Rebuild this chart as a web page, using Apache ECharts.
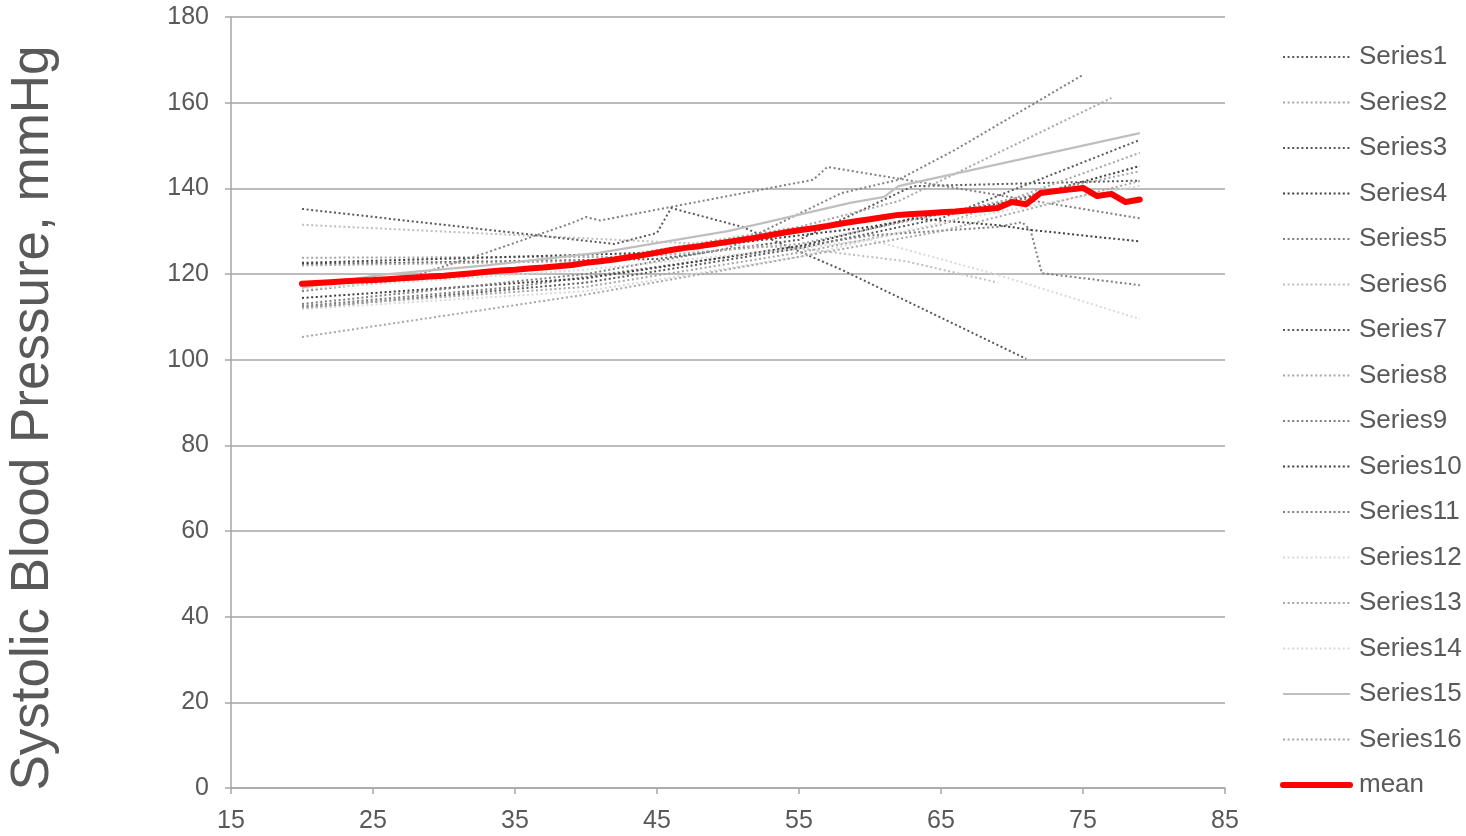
<!DOCTYPE html>
<html>
<head>
<meta charset="utf-8">
<script src="https://cdn.jsdelivr.net/npm/echarts@6/dist/echarts.min.js"></script>
<style>html,body{margin:0;padding:0;background:#fff}#c{width:1466px;height:836px}</style>
</head>
<body>
<div id="c"></div>
<script>
// ---- data (age, systolic blood pressure) ----
const yTitle = "Systolic Blood Pressure, mmHg";
const xTicks = [15, 25, 35, 45, 55, 65, 75, 85];
const yTicks = [0, 20, 40, 60, 80, 100, 120, 140, 160, 180];
const seriesNames = ["Series1","Series2","Series3","Series4","Series5","Series6","Series7","Series8","Series9","Series10","Series11","Series12","Series13","Series14","Series15","Series16"];
const s1  = [[20,122.3],[45,123.5],[55,128],[63,140.5],[79,141.8]];
const s2  = [[20,123.8],[42,124],[55,131],[62,137],[77,161.1]];
const s3  = [[20,112],[40,118],[55,126],[65,133],[79,151.3]];
const s4  = [[20,122.6],[45,125],[60,131],[70,137],[79,145.2]];
const s5  = [[20,116],[27,118.6],[33,125],[39,131.9],[40,133.3],[41,132.5],[56,142],[57,145],[79,133]];
const s6  = [[20,131.5],[42,128],[55,126],[62.5,123],[69,118]];
const s7  = [[20,135.2],[42,127],[45,129.6],[46,135.4],[51,131],[58,121],[71,100.2]];
const s8  = [[20,112.3],[40,117],[55,125],[65,131.5],[79,148.3]];
const s9  = [[20,112.5],[35,117],[50,124],[60,129],[69,131],[70.7,132.1],[71.3,130.3],[72.1,120.2],[79,117.4]];
const s10 = [[20,114.4],[40,119],[55,126.5],[63,133],[69,131.4],[71.3,130.3],[79,127.6]];
const s11 = [[20,113],[40,120],[50,126],[58,138.9],[62,142],[66,149],[75,166.5]];
const s12 = [[20,116.5],[40,121],[55,126],[60,128],[69,119.8],[79,109.5]];
const s13 = [[20,122],[40,123],[55,127],[65,134],[79,144]];
const s14 = [[20,111.8],[40,116],[55,124],[65,132],[79,140.6]];
const s15 = [[20,116.8],[25.5,119.8],[33,122],[41,125],[50,130],[58.6,136.6],[61,138],[62,140.5],[79,152.9]];
const s16 = [[20,105.3],[40,115.2],[55,124],[65,130],[79,141.7]];
const meanAges = [20,21,22,23,24,25,26,27,28,29,30,31,32,33,34,35,36,37,38,39,40,41,42,43,44,45,46,47,48,49,50,51,52,53,54,55,56,57,58,59,60,61,62,63,64,65,66,67,68,69,70,71,72,73,74,75,76,77,78,79];
const meanValues = [117.7,117.9,118.1,118.3,118.5,118.6,118.8,119.0,119.2,119.4,119.6,119.9,120.2,120.5,120.8,121.0,121.3,121.5,121.8,122.1,122.6,123.0,123.4,123.9,124.4,125.0,125.6,126.1,126.5,127.0,127.5,128.0,128.5,129.1,129.7,130.2,130.7,131.2,131.8,132.3,132.8,133.3,133.8,134.0,134.2,134.4,134.6,134.9,135.1,135.4,136.8,136.3,138.9,139.3,139.7,140.1,138.2,138.7,136.8,137.4];

const allSeries = [s1,s2,s3,s4,s5,s6,s7,s8,s9,s10,s11,s12,s13,s14,s15,s16];
const colors = ["#595959","#a6a6a6","#595959","#404040","#7f7f7f","#bfbfbf","#595959","#a6a6a6","#7f7f7f","#404040","#7f7f7f","#d9d9d9","#a6a6a6","#d9d9d9","#bfbfbf","#a6a6a6"];

const series = allSeries.map((d, i) => ({
  name: seriesNames[i],
  type: 'line',
  data: d,
  symbol: 'none',
  smooth: false,
  silent: true,
  lineStyle: i === 14
    ? { color: colors[i], width: 2.2, type: 'solid' }
    : { color: colors[i], width: 2, type: [2, 2.6], cap: 'butt' },
  itemStyle: { color: colors[i], opacity: 0 },
  z: 2
}));
series.push({
  name: 'mean',
  type: 'line',
  data: meanAges.map((a, i) => [a, meanValues[i]]),
  symbol: 'none',
  silent: true,
  lineStyle: { color: '#ff0000', width: 6, cap: 'round', join: 'round' },
  itemStyle: { color: '#ff0000', opacity: 0 },
  z: 5
});

const chart = echarts.init(document.getElementById('c'), null, { renderer: 'canvas' });
chart.setOption({
  animation: false,
  backgroundColor: '#ffffff',
  textStyle: { fontFamily: 'Liberation Sans, Arial, sans-serif' },
  grid: { left: 231, right: 241, top: 17, bottom: 48, containLabel: false },
  xAxis: {
    type: 'value', min: xTicks[0], max: xTicks[xTicks.length - 1], interval: 10,
    axisLine: { show: true, lineStyle: { color: '#a6a6a6', width: 1.5 } },
    axisTick: { show: true, inside: false, length: 6, lineStyle: { color: '#a6a6a6', width: 1.5 } },
    axisLabel: { color: '#595959', fontSize: 25, margin: 21 },
    splitLine: { show: false }
  },
  yAxis: {
    type: 'value', min: yTicks[0], max: yTicks[yTicks.length - 1], interval: 20,
    axisLine: { show: true, lineStyle: { color: '#a6a6a6', width: 1.5 } },
    axisTick: { show: true, inside: false, length: 6, lineStyle: { color: '#a6a6a6', width: 1.5 } },
    axisLabel: { color: '#595959', fontSize: 25, margin: 22 },
    splitLine: { show: true, lineStyle: { color: '#a6a6a6', width: 1.5 } }
  },
  legend: {
    orient: 'vertical',
    left: 1280, top: 42, padding: 0,
    itemWidth: 67, itemHeight: 10, itemGap: 15.5,
    itemStyle: { opacity: 0 },
    lineStyle: { width: 'inherit' },
    textStyle: { color: '#595959', fontSize: 26, lineHeight: 30, padding: [0, 0, 0, 4] },
    data: seriesNames.concat(['mean'])
  },
  graphic: [{
    type: 'text', x: 33, y: 418, rotation: Math.PI / 2,
    style: { text: yTitle, fill: '#595959', fontSize: 53, fontFamily: 'Liberation Sans, Arial, sans-serif', align: 'center', verticalAlign: 'middle' }
  }],
  series: series
});
</script>
</body>
</html>
